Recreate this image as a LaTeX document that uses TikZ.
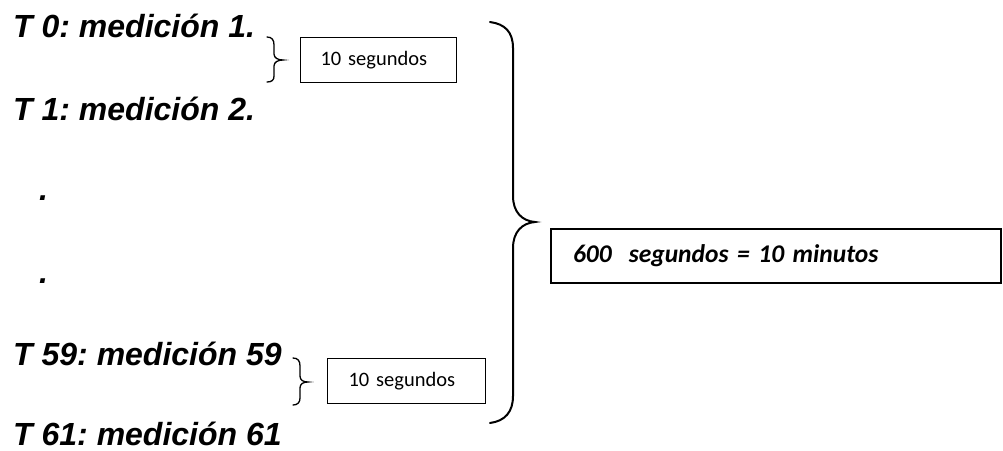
\documentclass[tikz,border=0pt]{standalone}
\usepackage{fontspec}
\setmainfont{Liberation Sans}
\newfontfamily\calibri{Carlito}
\frenchspacing
\begin{document}
\begin{tikzpicture}[x=1pt,y=-1pt,
  step label/.style={anchor=base west,inner sep=0pt,
    font=\fontsize{32}{36}\selectfont\bfseries\itshape},
  small box/.style={draw,line width=1.2pt,anchor=north west,inner ysep=0pt,
    minimum height=45pt,align=left,font=\calibri\fontsize{20.5}{24}\selectfont},
  big box/.style={draw,line width=2pt,anchor=north west,inner ysep=0pt,
    minimum height=54pt,align=left,font=\calibri\fontsize{25.5}{30}\selectfont\bfseries\itshape},
  small brace/.style={line width=1.3pt,line cap=round},
  big brace/.style={line width=2pt,line cap=round}]
\useasboundingbox (0,0) rectangle (1003,450);

% measurement labels
\node[step label] (t0)  at (13,37)  {T 0: medición 1.};
\node[step label] (t1)  at (13,120) {T 1: medición 2.};
\node[step label] (d1)  at (39,200) {.};
\node[step label] (d2)  at (39,283) {.};
\node[step label] (t59) at (13,365) {T 59: medición 59};
\node[step label] (t61) at (13,445) {T 61: medición 61};

% interval boxes
\node[small box,inner xsep=20pt,text width=116pt] (b1) at (300,37) {10 segundos};
\node[small box,inner xsep=21pt,text width=116pt] (b2) at (327,358) {10 segundos};
\node[big box,inner xsep=22pt,text width=406pt] (total) at (550,228) {600\ \ segundos = 10 minutos};

% small braces between consecutive measurements
\draw[small brace] (267,37) .. controls (272,37) and (274,40) .. (274,45)
  -- (274,54) .. controls (274,58) and (278,60) .. (283,60)
  .. controls (278,60) and (274,62) .. (274,66)
  -- (274,76) .. controls (274,80) and (272,82) .. (267,82);
\draw[small brace] (293,358) .. controls (298,358) and (300,361) .. (300,366)
  -- (300,376) .. controls (300,380) and (303,382) .. (308,382)
  .. controls (303,382) and (300,384) .. (300,388)
  -- (300,398) .. controls (300,402) and (298,405) .. (293,405);

% large brace spanning the whole series
\draw[big brace] (490,22) .. controls (505,24) and (513,32) .. (513,48)
  -- (513,196) .. controls (513,212) and (522,221) .. (535,222)
  .. controls (522,223) and (513,232) .. (513,248)
  -- (513,396) .. controls (513,412) and (505,421) .. (490,423);
\end{tikzpicture}
\end{document}
